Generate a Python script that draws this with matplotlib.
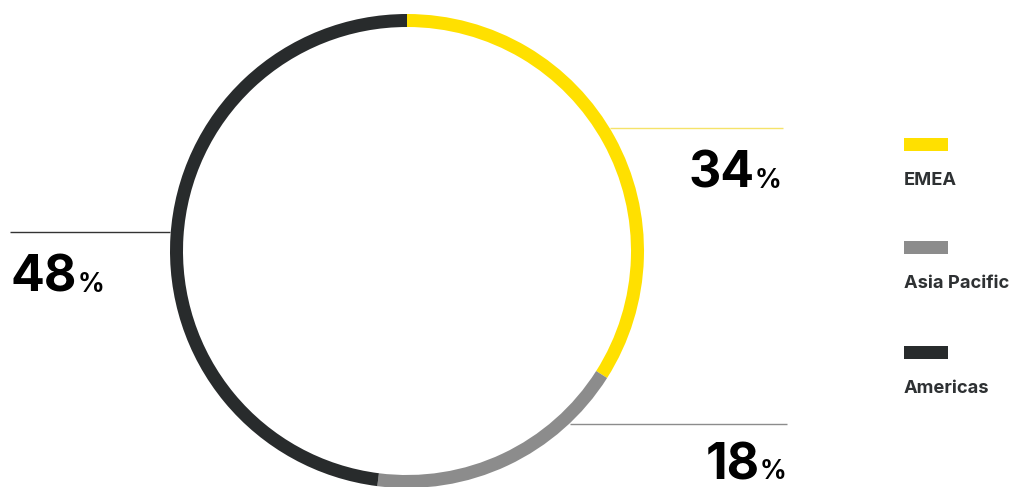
import matplotlib
matplotlib.use('Agg')
import matplotlib.pyplot as plt
from matplotlib.patches import Rectangle

# Share of revenue by region
regions = ['EMEA', 'Asia Pacific', 'Americas']
shares = [34, 18, 48]
colors = ['#FFE000', '#8C8C8C', '#282B2C']
line_colors = ['#F5E36A', '#8C8C8C', '#333333']

W, H = 1019, 487
fig = plt.figure(figsize=(W / 100, H / 100), dpi=100)
ax = fig.add_axes([0, 0, 1, 1])
ax.set_xlim(0, W)
ax.set_ylim(0, H)
ax.set_aspect('equal')
ax.axis('off')

plt.rcParams['font.family'] = ['Inter', 'DejaVu Sans']

# ring (pixel coords, y measured from bottom)
cx, cy, r = 407, H - 251, 237
ax.pie(shares, colors=colors, startangle=90, counterclock=False,
       center=(cx, cy), radius=r, frame=True,
       wedgeprops=dict(width=13, edgecolor='none'))
ax.set_xlim(0, W)
ax.set_ylim(0, H)
ax.axis('off')

# leader lines: (x0, x1, y) in pixel coords from the top
leaders = [(610, 783, 128), (570, 787, 424), (10, 170, 232)]
for (x0, x1, y), c in zip(leaders, line_colors):
    ax.plot([x0, x1], [H - y, H - y], color=c, lw=1, solid_capstyle='butt')

# big percentage labels: left x, baseline y (from top)
label_pos = [(689, 188), (706, 479), (11, 292)]
fig.canvas.draw()
renderer = fig.canvas.get_renderer()
for (x, y), s in zip(label_pos, shares):
    t = ax.text(x, H - y, str(s), fontsize=36, fontweight='bold',
                color='#000000', va='baseline', ha='left')
    bb = t.get_window_extent(renderer)
    ax.text(bb.x1, H - y, '%', fontsize=19, fontweight='bold',
            color='#000000', va='baseline', ha='left')

# legend
legend_y = [138, 241, 346]
for ly, name, c in zip(legend_y, regions, colors):
    ax.add_patch(Rectangle((904, H - ly - 13), 44, 13, color=c, lw=0))
    ax.text(904, H - ly - 47, name, fontsize=13.2, fontweight='bold',
            color='#2E3133', va='baseline', ha='left')

fig.savefig('out.png', dpi=100)
